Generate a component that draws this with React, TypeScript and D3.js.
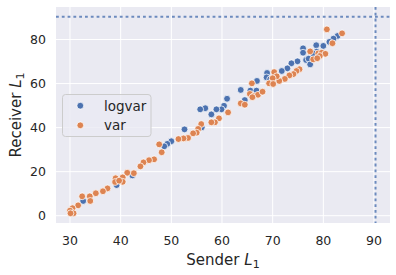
import React from 'react';
import * as d3 from 'd3';

// seaborn "darkgrid" scatter of Sender L1 vs Receiver L1, two hues
const series = ['logvar', 'var'];
const colors = ['#4C72B0', '#DD8452'];

const logvarX = [82.8, 82.0, 81.2, 80.0, 78.6, 76.0, 76.0, 78.7, 78.0, 76.6, 77.1, 77.4, 74.9, 73.7, 72.9, 71.8,
  68.9, 68.8, 69.5, 69.8, 66.9, 63.7, 65.6, 66.8, 64.5, 61.0, 60.4, 59.9, 58.9, 57.9, 56.7, 55.7,
  56.0, 52.6, 50.0, 49.2, 48.6, 42.3, 39.2, 32.6];
const logvarY = [81.6, 80.4, 78.9, 77.1, 77.4, 76.0, 74.0, 74.5, 73.7, 70.7, 71.3, 68.7, 70.1, 69.2, 66.9, 65.7,
  64.8, 62.8, 61.9, 60.6, 61.2, 57.1, 56.8, 56.8, 52.5, 53.1, 49.9, 48.3, 48.3, 46.0, 48.8, 48.3,
  40.1, 39.2, 33.8, 32.6, 31.5, 18.3, 13.9, 6.7];

const varX = [80.7, 83.7, 81.8, 77.4, 79.0, 79.7, 80.4, 79.3, 78.0, 78.8, 75.3, 74.7, 74.1, 73.3, 72.4, 71.3,
  70.3, 70.8, 70.0, 69.3, 70.1, 65.9, 65.5, 66.3, 67.1, 68.0, 66.0, 63.7, 64.5, 61.2, 59.4, 58.6,
  57.9, 55.9, 55.3, 55.0, 54.3, 53.3, 52.4, 51.4, 47.6, 48.1, 46.6, 45.6, 44.5, 43.9, 42.6, 41.3,
  40.4, 40.4, 39.0, 38.9, 39.7, 37.4, 36.5, 35.1, 33.9, 32.4, 34.0, 31.6, 30.5, 30.0, 30.7, 30.1];
const varY = [84.6, 82.8, 78.3, 74.6, 73.7, 74.0, 73.5, 72.5, 71.0, 71.5, 66.5, 65.7, 64.3, 63.7, 62.1, 61.2,
  65.2, 63.3, 62.4, 60.1, 59.8, 60.1, 55.3, 54.3, 54.9, 56.3, 53.8, 51.0, 50.4, 46.9, 44.2, 42.4,
  42.4, 41.6, 39.4, 37.7, 37.4, 35.3, 35.1, 34.8, 32.4, 28.8, 25.6, 25.2, 24.2, 22.4, 19.3, 19.5,
  17.4, 15.4, 17.0, 15.3, 15.9, 12.4, 11.1, 10.2, 8.8, 8.8, 6.7, 4.7, 3.4, 2.3, 1.1, 1.1];

const xTicks = [30, 40, 50, 60, 70, 80, 90];
const yTicks = [0, 20, 40, 60, 80];
const refLine = 90.3;

const W = 396;
const H = 275;
const left = 56, right = 390, top = 7, bottom = 223;

export default function App() {
  const x = d3.scaleLinear().domain([27.237, 93.158]).range([left, right]);
  const y = d3.scaleLinear().domain([-3.31, 94.76]).range([bottom, top]);

  const groups = [
    { name: series[0], xs: logvarX, ys: logvarY, color: colors[0] },
    { name: series[1], xs: varX, ys: varY, color: colors[1] },
  ];

  const font = 'DejaVu Sans, sans-serif';
  const txt = '#262626';

  return (
    <svg width={W} height={H} style={{ position: 'fixed', top: 0, left: 0 }} fontFamily={font}>
      <rect x={0} y={0} width={W} height={H} fill="#ffffff" />
      <rect x={left} y={top} width={right - left} height={bottom - top} fill="#EAEAF2" />
      {xTicks.map(t => (
        <line key={'gx' + t} x1={x(t)} x2={x(t)} y1={top} y2={bottom} stroke="#fff" strokeWidth={1} />
      ))}
      {yTicks.map(t => (
        <line key={'gy' + t} x1={left} x2={right} y1={y(t)} y2={y(t)} stroke="#fff" strokeWidth={1} />
      ))}
      {xTicks.map(t => (
        <text key={'tx' + t} x={x(t)} y={245} textAnchor="middle" fontSize={12.5} fill={txt}>{t}</text>
      ))}
      {yTicks.map(t => (
        <text key={'ty' + t} x={46} y={y(t) + 4.5} textAnchor="end" fontSize={12.5} fill={txt}>{t}</text>
      ))}
      <line x1={left} x2={right} y1={y(refLine)} y2={y(refLine)} stroke="#4C72B0" strokeOpacity={0.8}
        strokeWidth={2} strokeDasharray="2.8 3" />
      <line x1={x(refLine)} x2={x(refLine)} y1={top} y2={bottom} stroke="#4C72B0" strokeOpacity={0.8}
        strokeWidth={2} strokeDasharray="2.8 3" />
      {groups.map(g => (
        <g key={g.name}>
          {g.xs.map((v, i) => (
            <circle key={i} cx={x(v)} cy={y(g.ys[i])} r={3.4} fill={g.color} stroke="#fff" strokeWidth={0.75} />
          ))}
        </g>
      ))}
      <g>
        <rect x={62.5} y={94.5} width={88.5} height={42} rx={3} fill="#EAEAF2" fillOpacity={0.8}
          stroke="#cccccc" strokeWidth={1} />
        {groups.map((g, i) => (
          <g key={'lg' + g.name}>
            <circle cx={80.3} cy={105.7 + i * 19.6} r={3.4} fill={g.color} stroke="#fff" strokeWidth={0.75} />
            <text x={104} y={110.5 + i * 19.6} fontSize={13.5} fill={txt}>{g.name}</text>
          </g>
        ))}
      </g>
      <text x={(left + right) / 2} y={265} textAnchor="middle" fontSize={15} fill={txt}>
        Sender <tspan fontStyle="italic">L</tspan><tspan fontSize={11} dy={3}>1</tspan>
      </text>
      <text transform={`translate(21,${(top + bottom) / 2}) rotate(-90)`} textAnchor="middle" fontSize={15} fill={txt}>
        Receiver <tspan fontStyle="italic">L</tspan><tspan fontSize={11} dy={3}>1</tspan>
      </text>
    </svg>
  );
}
